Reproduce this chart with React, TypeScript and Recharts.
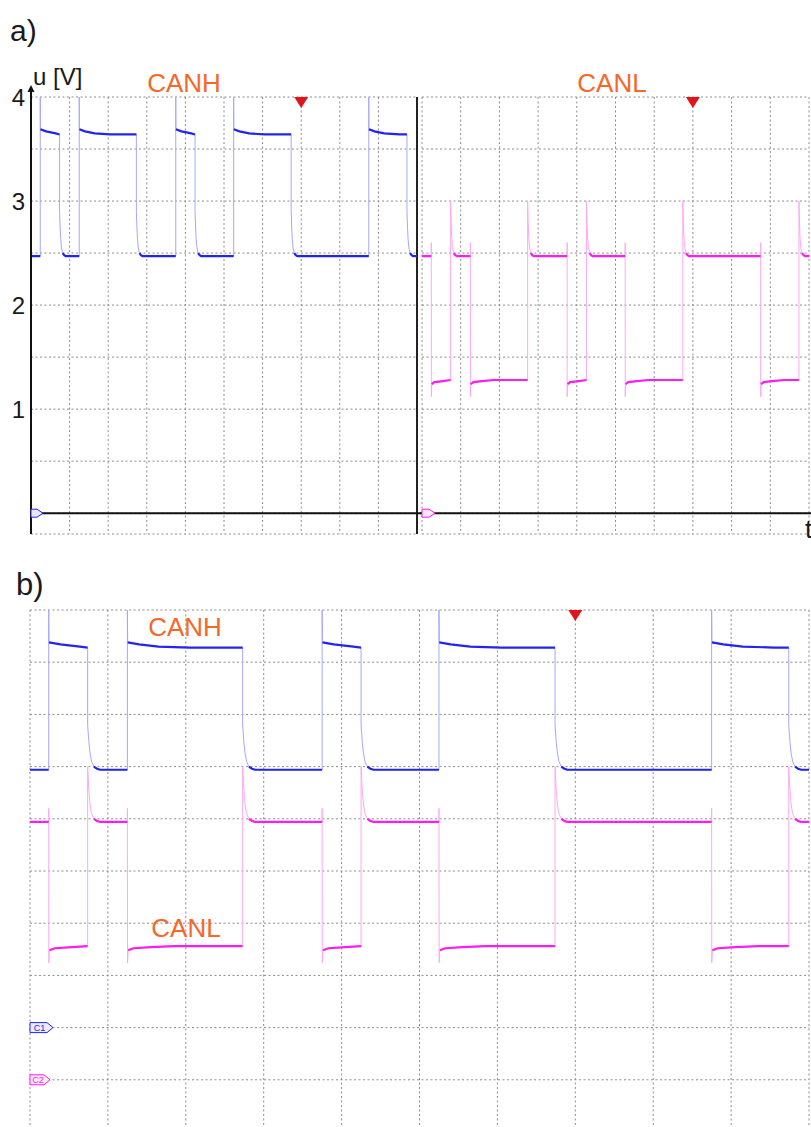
import React from 'react';
import { LineChart, Line, XAxis, YAxis, CartesianGrid, ReferenceLine, ReferenceDot } from 'recharts';

// time in screen divisions (0..10); same capture timing in a) and b)
const DOMINANT_START = [0.24, 1.25, 3.75, 5.25, 8.75];
const DOMINANT_END = [0.74, 2.73, 4.25, 6.74, 9.74];
const TRIGGER_T = 7;

// CANH levels [V] and edge shapes [dt, V]
const CANH_RECESSIVE = 2.47;
const CANH_DOMINANT = 3.64;
const CANH_EDGE_IN: [number, number][] = [[0, 4.0], [0.004, 3.69]];
const CANH_SETTLE: [number, number][] = [[0.15, 3.67], [0.4, 3.65], [0.8, 3.64]];
const CANH_EDGE_OUT: [number, number][] = [[0, 2.9], [0.015, 2.74], [0.03, 2.63], [0.05, 2.55], [0.08, 2.5], [0.12, 2.48], [0.16, 2.47]];

// CANL levels [V] and edge shapes [dt, V]
const CANL_RECESSIVE = 2.47;
const CANL_DOMINANT = 1.28;
const CANL_EDGE_IN: [number, number][] = [[0, 2.6], [0.002, 1.12], [0.01, 1.24]];
const CANL_SETTLE: [number, number][] = [[0.08, 1.26], [0.3, 1.27], [0.6, 1.28]];
const CANL_EDGE_OUT: [number, number][] = [[0, 3.0], [0.015, 2.78], [0.03, 2.64], [0.05, 2.55], [0.08, 2.5], [0.12, 2.48], [0.16, 2.47]];
const TAIL_THICK_FROM = 4;

// ticks
const TIME_GRID = [0, 1, 2, 3, 4, 5, 6, 7, 8, 9, 10];
const TIME_MINOR = [0, 0.5, 1, 1.5, 2, 2.5, 3, 3.5, 4, 4.5, 5, 5.5, 6, 6.5, 7, 7.5, 8, 8.5, 9, 9.5, 10];
const VOLT_LABELS_A = [1, 2, 3, 4];
const VOLT_GRID_A = [0, 0.5, 1, 1.5, 2, 2.5, 3, 3.5, 4];
const VOLT_MINOR_A = [0, 0.25, 0.5, 0.75, 1, 1.25, 1.5, 1.75, 2, 2.25, 2.5, 2.75, 3, 3.25, 3.5, 3.75, 4];
const VOLT_GRID_B = [-1, -0.5, 0, 0.5, 1, 1.5, 2, 2.5, 3, 3.5, 4];
const VOLT_MINOR_B = [-1, -0.75, -0.5, -0.25, 0, 0.25, 0.5, 0.75, 1, 1.25, 1.5, 1.75, 2, 2.25, 2.5, 2.75, 3, 3.25, 3.5, 3.75, 4];
const DOMAIN_T: [number, number] = [0, 10];
const DOMAIN_A: [number, number] = [-0.2, 4];
const DOMAIN_B_H: [number, number] = [-1, 4];
const DOMAIN_B_L: [number, number] = [-0.5, 4.5];

const BLUE = '#2424f0';
const BLUE_FAINT = '#a6a6ff';
const PINK = '#ff1cef';
const PINK_FAINT = '#ffa8f5';
const ORANGE = '#f4682a';
const RED = '#e3131c';
const GRID = '#8c8c8c';
const FRAME = '#666';

type Pt = { t: number; v: number | null };

function buildSignal(rec: number, dom: number, edgeIn: [number, number][], settle: [number, number][], edgeOut: [number, number][]) {
  const trace: Pt[] = [{ t: 0, v: rec }];
  const levels: Pt[] = [{ t: 0, v: rec }];
  DOMINANT_START.forEach((ts, i) => {
    const te = DOMINANT_END[i];
    trace.push({ t: ts, v: rec });
    levels.push({ t: ts, v: rec }, { t: ts, v: null });
    edgeIn.forEach(([dt, v]) => trace.push({ t: ts + dt, v }));
    const [inDt, inV] = edgeIn[edgeIn.length - 1];
    levels.push({ t: ts + inDt, v: inV });
    settle.filter(([dt]) => ts + dt < te).forEach(([dt, v]) => {
      trace.push({ t: ts + dt, v });
      levels.push({ t: ts + dt, v });
    });
    trace.push({ t: te, v: dom });
    levels.push({ t: te, v: dom }, { t: te, v: null });
    edgeOut.forEach(([dt, v], k) => {
      trace.push({ t: te + dt, v });
      if (k >= TAIL_THICK_FROM) levels.push({ t: te + dt, v });
    });
  });
  trace.push({ t: 10, v: rec });
  levels.push({ t: 10, v: rec });
  return { trace, levels };
}

const canh = buildSignal(CANH_RECESSIVE, CANH_DOMINANT, CANH_EDGE_IN, CANH_SETTLE, CANH_EDGE_OUT);
const canl = buildSignal(CANL_RECESSIVE, CANL_DOMINANT, CANL_EDGE_IN, CANL_SETTLE, CANL_EDGE_OUT);

const Trigger = (p: any) => (
  <polygon points={`${p.cx - 7},${p.cy} ${p.cx + 7},${p.cy} ${p.cx},${p.cy + 11}`} fill={RED} />
);

const AxisArrow = (p: any) => (
  <g>
    <line x1={p.cx} y1={p.cy} x2={p.cx} y2={p.cy - 8} stroke="#111" strokeWidth={2} />
    <polygon points={`${p.cx - 3.5},${p.cy - 5} ${p.cx + 3.5},${p.cy - 5} ${p.cx},${p.cy - 12}`} fill="#111" />
  </g>
);

const flag = (color: string, fill: string, label: string, w: number, h: number) => (p: any) => (
  <g>
    <polygon
      points={`${p.cx},${p.cy - h} ${p.cx + w - 6},${p.cy - h} ${p.cx + w},${p.cy} ${p.cx + w - 6},${p.cy + h} ${p.cx},${p.cy + h}`}
      fill={fill}
      stroke={color}
      strokeWidth={1}
    />
    <text x={p.cx + (w - 6) / 2 + 1} y={p.cy + 3} fontSize={h > 4 ? 9 : 6} fill={color} textAnchor="middle">
      {label}
    </text>
  </g>
);

// frame with inward minor ticks on all four sides
function frameAxes(domainY: [number, number], minorY: number[]) {
  const common = { tick: false as const, tickSize: 4, allowDataOverflow: true, type: 'number' as const };
  const line = { stroke: FRAME, strokeWidth: 1.2 };
  return [
    <XAxis key="ft" xAxisId="ft" orientation="top" mirror height={0} domain={DOMAIN_T} ticks={TIME_MINOR} axisLine={line} tickLine={{ stroke: FRAME }} {...common} />,
    <XAxis key="fb" xAxisId="fb" orientation="bottom" mirror height={0} domain={DOMAIN_T} ticks={TIME_MINOR} axisLine={line} tickLine={{ stroke: FRAME }} {...common} />,
    <YAxis key="fr" yAxisId="fr" orientation="right" mirror width={0} domain={domainY} ticks={minorY} axisLine={line} tickLine={{ stroke: FRAME }} {...common} />,
    <YAxis key="fl" yAxisId="fl" orientation="left" mirror width={0} domain={domainY} ticks={minorY} axisLine={line} tickLine={{ stroke: FRAME }} {...common} />,
  ];
}

const gridProps = { stroke: GRID, strokeDasharray: '2 2.5', strokeWidth: 1 };

export default function App() {
  return (
    <div
      style={{
        position: 'absolute',
        left: 0,
        top: 0,
        width: 811,
        height: 1127,
        overflow: 'hidden',
        background: '#fff',
        fontFamily: '"Liberation Sans", Arial, sans-serif',
      }}
    >
      {/* a) left: CANH */}
      <div style={{ position: 'absolute', left: 0, top: 0 }}>
        <LineChart width={426} height={545} margin={{ top: 97, right: 9, bottom: 11, left: 0 }}>
          <XAxis dataKey="t" type="number" domain={DOMAIN_T} ticks={TIME_GRID} hide height={0} allowDataOverflow />
          <YAxis type="number" domain={DOMAIN_A} ticks={VOLT_GRID_A} hide width={0} allowDataOverflow />
          <YAxis
            yAxisId="lbl"
            type="number"
            domain={DOMAIN_A}
            ticks={VOLT_LABELS_A}
            interval={0}
            width={31}
            tickLine={false}
            tickSize={0}
            tickMargin={6}
            axisLine={{ stroke: '#111', strokeWidth: 2 }}
            tick={{ fontSize: 24, fill: '#1a1a1a' }}
            allowDataOverflow
          />
          <CartesianGrid {...gridProps} />
          {frameAxes(DOMAIN_A, VOLT_MINOR_A)}
          <ReferenceLine x={10} stroke="#222" strokeWidth={2} />
          <Line data={canh.trace} dataKey="v" type="linear" dot={false} stroke={BLUE_FAINT} strokeWidth={1} isAnimationActive={false} />
          <Line data={canh.levels} dataKey="v" type="linear" dot={false} stroke={BLUE} strokeWidth={2.2} isAnimationActive={false} />
          <ReferenceLine segment={[{ x: 0, y: 0 }, { x: 10.15, y: 0 }]} stroke="#111" strokeWidth={2} ifOverflow="visible" />
          <ReferenceLine segment={[{ x: 0, y: -0.2 }, { x: 0, y: 4 }]} stroke="#111" strokeWidth={2} ifOverflow="visible" />
          <ReferenceDot x={TRIGGER_T} y={4} r={0} shape={Trigger} ifOverflow="visible" />
          <ReferenceDot x={0} y={4} r={0} shape={AxisArrow} ifOverflow="visible" />
          <ReferenceDot x={0} y={0} r={0} shape={flag(BLUE, '#e6e6ff', '', 12, 4)} ifOverflow="visible" />
        </LineChart>
      </div>

      {/* a) right: CANL */}
      <div style={{ position: 'absolute', left: 420, top: 0 }}>
        <LineChart width={391} height={545} margin={{ top: 97, right: 2, bottom: 11, left: 2 }}>
          <XAxis dataKey="t" type="number" domain={DOMAIN_T} ticks={TIME_GRID} hide height={0} allowDataOverflow />
          <YAxis type="number" domain={DOMAIN_A} ticks={VOLT_GRID_A} hide width={0} allowDataOverflow />
          <CartesianGrid {...gridProps} />
          {frameAxes(DOMAIN_A, VOLT_MINOR_A)}
          <Line data={canl.trace} dataKey="v" type="linear" dot={false} stroke={PINK_FAINT} strokeWidth={1} isAnimationActive={false} />
          <Line data={canl.levels} dataKey="v" type="linear" dot={false} stroke={PINK} strokeWidth={2.2} isAnimationActive={false} />
          <ReferenceLine segment={[{ x: -0.15, y: 0 }, { x: 10.1, y: 0 }]} stroke="#111" strokeWidth={2} ifOverflow="visible" />
          <ReferenceDot x={TRIGGER_T} y={4} r={0} shape={Trigger} ifOverflow="visible" />
          <ReferenceDot x={0} y={0} r={0} shape={flag(PINK, '#ffe6fb', '', 13, 4)} ifOverflow="visible" />
        </LineChart>
      </div>

      {/* b) CANH and CANL together */}
      <div style={{ position: 'absolute', left: 0, top: 560 }}>
        <LineChart width={811} height={580} margin={{ top: 50, right: 2, bottom: 8, left: 30 }}>
          <XAxis dataKey="t" type="number" domain={DOMAIN_T} ticks={TIME_GRID} hide height={0} allowDataOverflow />
          <YAxis yAxisId="h" type="number" domain={DOMAIN_B_H} ticks={VOLT_GRID_B} hide width={0} allowDataOverflow />
          <YAxis yAxisId="l" type="number" domain={DOMAIN_B_L} hide width={0} allowDataOverflow />
          <CartesianGrid yAxisId="h" {...gridProps} />
          {frameAxes(DOMAIN_B_H, VOLT_MINOR_B)}
          <Line yAxisId="h" data={canh.trace} dataKey="v" type="linear" dot={false} stroke={BLUE_FAINT} strokeWidth={1} isAnimationActive={false} />
          <Line yAxisId="l" data={canl.trace} dataKey="v" type="linear" dot={false} stroke={PINK_FAINT} strokeWidth={1} isAnimationActive={false} />
          <Line yAxisId="h" data={canh.levels} dataKey="v" type="linear" dot={false} stroke={BLUE} strokeWidth={2.2} isAnimationActive={false} />
          <Line yAxisId="l" data={canl.levels} dataKey="v" type="linear" dot={false} stroke={PINK} strokeWidth={2.2} isAnimationActive={false} />
          <ReferenceDot yAxisId="h" x={TRIGGER_T} y={4} r={0} shape={Trigger} ifOverflow="visible" />
          <ReferenceDot yAxisId="h" x={0} y={0} r={0} shape={flag(BLUE, '#ececff', 'C1', 23, 5)} ifOverflow="visible" />
          <ReferenceDot yAxisId="l" x={0} y={0} r={0} shape={flag(PINK, '#ffeafc', 'C2', 20, 5)} ifOverflow="visible" />
        </LineChart>
      </div>

      {/* panel letters and labels */}
      <svg width={811} height={1127} style={{ position: 'absolute', left: 0, top: 0, pointerEvents: 'none' }}>
        <text x={10} y={41} fontSize={30} fill="#1a1a1a">a)</text>
        <text x={33} y={85} fontSize={24} fill="#1a1a1a">u [V]</text>
        <text x={184} y={92} fontSize={26} fill={ORANGE} textAnchor="middle">CANH</text>
        <text x={612} y={92} fontSize={26} fill={ORANGE} textAnchor="middle">CANL</text>
        <text x={805} y={538} fontSize={26} fill="#1a1a1a">t</text>
        <text x={16} y={595} fontSize={31} fill="#1a1a1a">b)</text>
        <text x={185} y={636} fontSize={26} fill={ORANGE} textAnchor="middle">CANH</text>
        <text x={186} y={937} fontSize={26} fill={ORANGE} textAnchor="middle">CANL</text>
      </svg>
    </div>
  );
}
